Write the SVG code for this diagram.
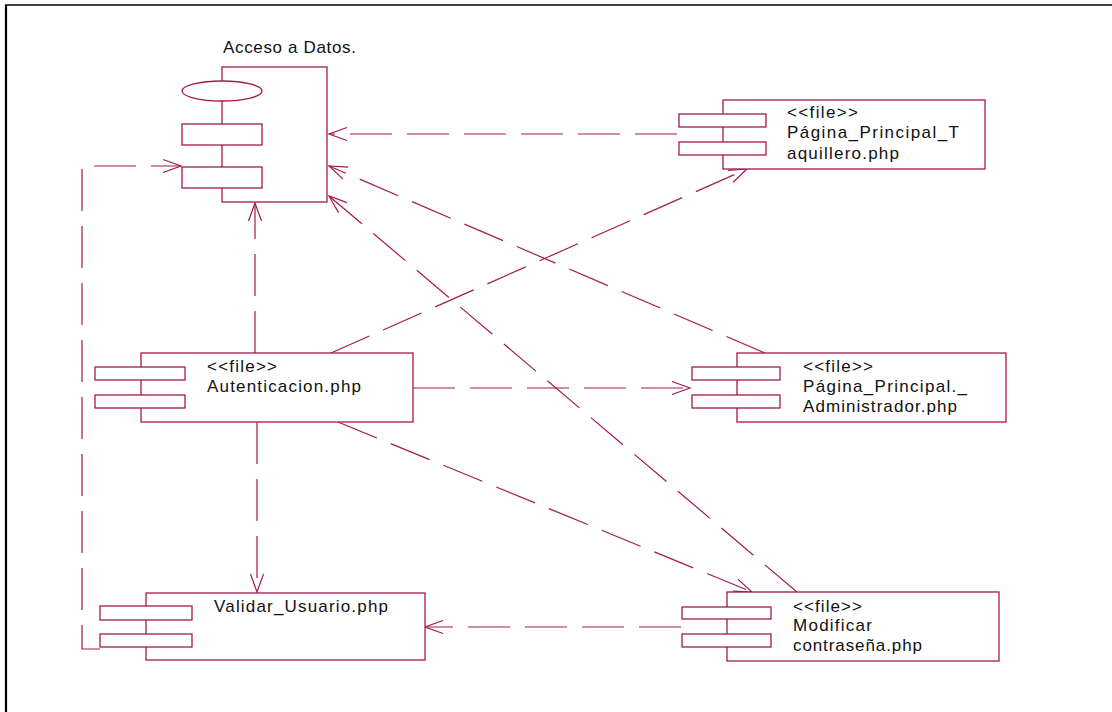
<svg xmlns="http://www.w3.org/2000/svg" width="1112" height="712" viewBox="0 0 1112 712">
<style>
.frame{fill:none;stroke:#000;}
.comp{fill:#fff;stroke:#a31a4f;stroke-width:1.3;}
.conn{fill:none;stroke:#a31a4f;stroke-width:1.2;stroke-dasharray:42 15;marker-end:url(#arr);}
.t{font-family:"Liberation Sans",Arial,sans-serif;font-size:17px;fill:#111;}
</style>
<defs>
<marker id="arr" markerUnits="userSpaceOnUse" viewBox="-20 -10 22 20" refX="0" refY="0" markerWidth="22" markerHeight="20" orient="auto" overflow="visible">
<path d="M-18,-6.5 L0,0 L-18,6.5" fill="none" stroke="#a31a4f" stroke-width="1.2" stroke-dasharray="none"/>
</marker>
</defs>
<rect width="1112" height="712" fill="#fff"/>
<path class="frame" d="M6,712 V5" stroke-width="2.2"/>
<path class="frame" d="M5,5 H1112" stroke-width="1.5"/>

<g id="connectors">
<path class="conn" d="M677,134 L329,134"/>
<path class="conn" d="M765,353 L329,166"/>
<path class="conn" d="M797,592 L329,196"/>
<path class="conn" d="M255,353 L255,203"/>
<path class="conn" d="M331,353 L747,169"/>
<path class="conn" d="M413,388 L690,388"/>
<path class="conn" d="M338,422 L752,592"/>
<path class="conn" d="M257,422 L257,592"/>
<path class="conn" d="M681,627 L425,627"/>
<path class="conn" d="M100,649 L82,649 L82,166 L181,166"/>
</g>

<g id="acceso-datos">
<rect class="comp" x="222" y="67" width="105" height="135"/>
<ellipse class="comp" cx="222" cy="91" rx="40" ry="10"/>
<rect class="comp" x="182" y="124" width="80" height="21"/>
<rect class="comp" x="182" y="167" width="80" height="21"/>
<text class="t" x="223" y="53" textLength="133" lengthAdjust="spacing">Acceso a Datos.</text>
</g>

<g id="pagina-taquillero">
<rect class="comp" x="723" y="100" width="262" height="69"/>
<rect class="comp" x="679" y="114" width="87" height="13"/>
<rect class="comp" x="679" y="142" width="87" height="13"/>
<text class="t" x="787" y="118" textLength="71" lengthAdjust="spacing">&lt;&lt;file&gt;&gt;</text>
<text class="t" x="787" y="138" textLength="172" lengthAdjust="spacing">Página_Principal_T</text>
<text class="t" x="787" y="159" textLength="112" lengthAdjust="spacing">aquillero.php</text>
</g>

<g id="autenticacion">
<rect class="comp" x="141" y="353" width="272" height="69"/>
<rect class="comp" x="95" y="367" width="90" height="13"/>
<rect class="comp" x="95" y="395" width="90" height="13"/>
<text class="t" x="207" y="372" textLength="70" lengthAdjust="spacing">&lt;&lt;file&gt;&gt;</text>
<text class="t" x="207" y="392" textLength="154" lengthAdjust="spacing">Autenticacion.php</text>
</g>

<g id="pagina-administrador">
<rect class="comp" x="737" y="353" width="269" height="69"/>
<rect class="comp" x="692" y="367" width="88" height="13"/>
<rect class="comp" x="692" y="395" width="88" height="13"/>
<text class="t" x="803" y="372" textLength="70" lengthAdjust="spacing">&lt;&lt;file&gt;&gt;</text>
<text class="t" x="803" y="392" textLength="164" lengthAdjust="spacing">Página_Principal._</text>
<text class="t" x="803" y="412" textLength="154" lengthAdjust="spacing">Administrador.php</text>
</g>

<g id="validar-usuario">
<rect class="comp" x="146" y="593" width="279" height="67"/>
<rect class="comp" x="100" y="606" width="92" height="14"/>
<rect class="comp" x="100" y="634" width="92" height="13"/>
<text class="t" x="214" y="612" textLength="174" lengthAdjust="spacing">Validar_Usuario.php</text>
</g>

<g id="modificar-contrasena">
<rect class="comp" x="727" y="592" width="272" height="69"/>
<rect class="comp" x="682" y="607" width="89" height="12"/>
<rect class="comp" x="682" y="634" width="89" height="13"/>
<text class="t" x="793" y="612" textLength="69" lengthAdjust="spacing">&lt;&lt;file&gt;&gt;</text>
<text class="t" x="793" y="631" textLength="79" lengthAdjust="spacing">Modificar</text>
<text class="t" x="793" y="651" textLength="129" lengthAdjust="spacing">contraseña.php</text>
</g>
</svg>
